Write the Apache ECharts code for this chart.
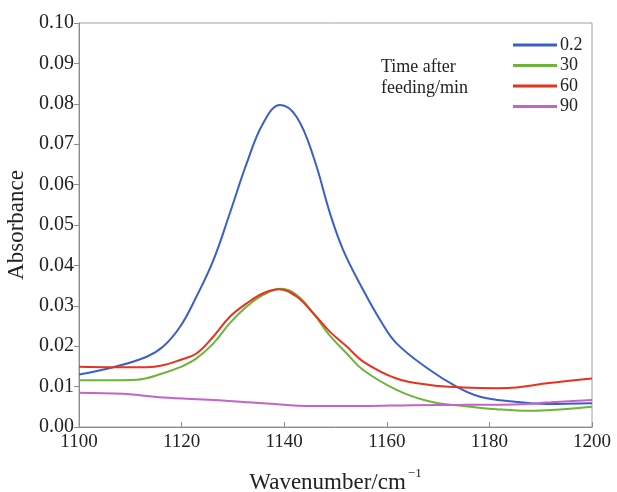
<!DOCTYPE html>
<html>
<head>
<meta charset="utf-8">
<script src="https://cdn.jsdelivr.net/npm/echarts@6/dist/echarts.min.js"></script>
<style>
  html, body { margin: 0; padding: 0; background: #fff; }
  #chart { width: 617px; height: 492px; }
</style>
</head>
<body>
<div id="chart"></div>
<script>
// wavenumber (cm^-1) / absorbance pairs
const t02 = [[1100, 0.0130], [1106.7, 0.0148], [1113.2, 0.0174], [1116.4, 0.0199], [1119.7, 0.0248],
  [1122.9, 0.0323], [1126.2, 0.0413], [1129.4, 0.0529], [1132.7, 0.0653], [1135.9, 0.0752],
  [1139.2, 0.0797], [1142.4, 0.0768], [1145.7, 0.0669], [1148.9, 0.0530], [1151.5, 0.0438],
  [1155.4, 0.0339], [1158.7, 0.0265], [1161.9, 0.0207], [1168.4, 0.0141], [1173.6, 0.0100],
  [1178.2, 0.0075], [1184.6, 0.0063], [1191.2, 0.0057], [1200, 0.0059]];
const t30 = [[1100, 0.0116], [1106.7, 0.0116], [1111.2, 0.0117], [1116.4, 0.0133], [1119.7, 0.0148],
  [1122.9, 0.0170], [1126.2, 0.0207], [1129.4, 0.0257], [1132.7, 0.0298], [1135.9, 0.0327],
  [1139.5, 0.0342], [1142.4, 0.0327], [1145.7, 0.0281], [1148.9, 0.0226], [1152.2, 0.0182],
  [1155.4, 0.0141], [1161.9, 0.0092], [1168.4, 0.0063], [1174.9, 0.0052], [1181.4, 0.0044],
  [1187.9, 0.0040], [1194.4, 0.0044], [1200, 0.0050]];
const t60 = [[1100, 0.0149], [1106.7, 0.0148], [1113.2, 0.0148], [1116.4, 0.0153], [1119.7, 0.0166],
  [1122.9, 0.0182], [1126.2, 0.0224], [1129.4, 0.0273], [1132.7, 0.0306], [1135.9, 0.0331],
  [1138.9, 0.0341], [1142.4, 0.0323], [1145.7, 0.0281], [1148.9, 0.0236], [1152.2, 0.0199],
  [1155.4, 0.0162], [1161.9, 0.0120], [1168.4, 0.0104], [1174.9, 0.0098], [1181.4, 0.0096],
  [1185.3, 0.0098], [1191.2, 0.0108], [1200, 0.0120]];
const t90 = [[1100, 0.0085], [1108.6, 0.0082], [1116.4, 0.0073], [1126.2, 0.0067], [1135.9, 0.0059],
  [1145.7, 0.0052], [1155, 0.0052], [1165, 0.0054], [1175, 0.0055], [1185, 0.0056],
  [1192, 0.0061], [1200, 0.0067]];

const seriesNames = ['0.2', '30', '60', '90'];
const seriesData = [t02, t30, t60, t90];
const seriesColors = ['#3a5fc8', '#6cb43a', '#e8321e', '#c463c8'];

const font = 'Liberation Serif';
const axisGray = '#8c8c8c';

let chart = echarts.init(document.getElementById('chart'));

let option = {
  animation: false,
  backgroundColor: '#fff',
  grid: {
    left: 79, right: 25, top: 23, bottom: 65,
    outerBoundsMode: 'none',
    show: true, borderColor: '#a0a0a0', borderWidth: 1
  },
  legend: {
    orient: 'vertical',
    left: 508,
    top: 31,
    itemWidth: 44,
    itemHeight: 3,
    itemGap: 2.5,
    icon: 'rect',
    data: seriesNames,
    textStyle: { fontFamily: font, fontSize: 18, color: '#222', padding: [0, 0, 0, -2] }
  },
  graphic: [{
    type: 'text',
    left: 381,
    top: 57,
    style: { text: 'Time after\nfeeding/min', font: '18px "Liberation Serif"', fill: '#222', lineHeight: 21 }
  }],
  xAxis: {
    type: 'value',
    min: 1100,
    max: 1200,
    interval: 20,
    name: 'Wavenumber/cm{sup|−1}',
    nameLocation: 'middle',
    nameGap: 40,
    nameTextStyle: {
      fontFamily: font, fontSize: 23, color: '#222',
      rich: { sup: { fontFamily: font, fontSize: 13, color: '#222', verticalAlign: 'top', padding: [0, 0, 18, 2] } }
    },
    axisLine: { lineStyle: { color: axisGray, width: 1 } },
    axisTick: { inside: true, length: 5, lineStyle: { color: axisGray } },
    axisLabel: { fontFamily: font, fontSize: 19, color: '#222', margin: 6, formatter: v => String(v) },
    splitLine: { show: false }
  },
  yAxis: {
    type: 'value',
    min: 0,
    max: 0.1,
    interval: 0.01,
    name: 'Absorbance',
    nameLocation: 'middle',
    nameGap: 47,
    nameTextStyle: { fontFamily: font, fontSize: 23, color: '#222' },
    axisLine: { show: true, lineStyle: { color: axisGray, width: 1 } },
    axisTick: { show: true, length: 5, lineStyle: { color: axisGray } },
    axisLabel: { fontFamily: font, fontSize: 20, color: '#222', margin: 5, formatter: v => v.toFixed(2) },
    splitLine: { show: false }
  },
  series: seriesNames.map((name, i) => ({
    name: name,
    type: 'line',
    data: seriesData[i],
    smooth: 0.4,
    showSymbol: false,
    symbol: 'none',
    lineStyle: { color: seriesColors[i], width: 2 },
    itemStyle: { color: seriesColors[i] }
  }))
};

chart.setOption(option);
</script>
</body>
</html>
